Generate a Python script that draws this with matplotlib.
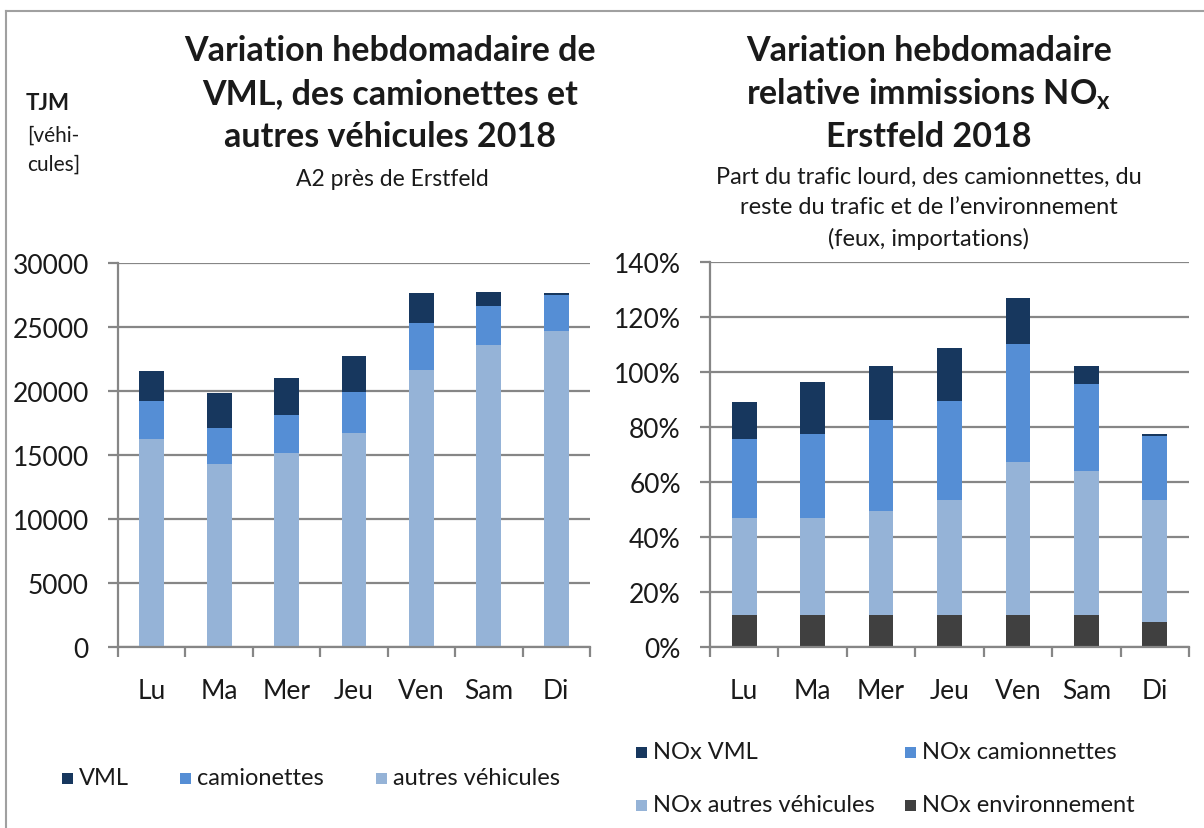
import matplotlib.pyplot as plt
import matplotlib.patches as patches
import numpy as np

plt.rcParams['font.family'] = ['Lato', 'DejaVu Sans']

# Data
days = ["Lu", "Ma", "Mer", "Jeu", "Ven", "Sam", "Di"]

# left chart: daily traffic (TJM, vehicles)
autres = [16250, 14290, 15180, 16740, 21660, 23590, 24650]
camionettes = [2990, 2810, 2920, 3180, 3670, 3070, 2870]
vml = [2290, 2740, 2890, 2780, 2320, 1090, 130]

# right chart: relative NOx immissions (%)
nox_env = [11.8, 11.8, 11.8, 11.8, 11.8, 11.8, 9.0]
nox_autres = [35.0, 35.0, 37.8, 41.8, 55.4, 52.2, 44.6]
nox_cam = [28.9, 30.7, 32.8, 36.0, 43.1, 31.5, 23.3]
nox_vml = [13.3, 18.8, 19.7, 19.3, 16.6, 6.6, 0.6]

# Colors
c_vml = '#17375E'
c_cam = '#558ED5'
c_autres = '#95B3D7'
c_env = '#404040'
c_grid = '#868686'
c_text = '#1a1a1a'

W, H = 1204, 829
fig = plt.figure(figsize=(W / 100, H / 100), dpi=100)


def fx(px):
    return px / W


def fy(py):
    return 1 - py / H


# frame lines (top and left)
fig.add_artist(plt.Line2D([fx(6), 1], [fy(12), fy(12)], color='#a0a0a0', lw=1.5))
fig.add_artist(plt.Line2D([fx(6), fx(6)], [0, fy(12)], color='#a0a0a0', lw=1.5))


def style_axes(ax, ymax, step):
    ax.set_xlim(-0.5, 6.5)
    ax.set_ylim(0, ymax)
    ax.set_yticks(np.arange(0, ymax + step / 2, step))
    ax.grid(axis='y', color=c_grid, lw=1.6, zorder=0)
    ax.set_axisbelow(True)
    for s in ['top', 'right']:
        ax.spines[s].set_visible(False)
    for s in ['left', 'bottom']:
        ax.spines[s].set_color(c_grid)
        ax.spines[s].set_linewidth(1.6)
    ax.set_xticks(range(len(days)))
    ax.set_xticklabels(days)
    ax.set_xticks(np.arange(-0.5, 7, 1), minor=True)
    ax.tick_params(axis='x', which='major', length=0, pad=22, labelsize=19, colors=c_text)
    ax.tick_params(axis='x', which='minor', length=7, width=1.6, color=c_grid)
    ax.tick_params(axis='y', length=7, width=1.6, color=c_grid, pad=14, labelsize=19,
                   labelcolor=c_text)


def legend_item(px, py, color, label):
    s = 11
    fig.add_artist(patches.Rectangle((fx(px), fy(py + s / 2)), s / W, s / H,
                                     facecolor=color, edgecolor='none'))
    fig.text(fx(px + s + 6), fy(py), label, ha='left', va='center', fontsize=17,
             color=c_text)


x = np.arange(len(days))
w = 0.37

# === Left chart ===
ax1 = fig.add_axes([fx(118), fy(648), 472 / W, 384 / H])
ax1.bar(x, autres, w, color=c_autres, zorder=2)
ax1.bar(x, camionettes, w, bottom=autres, color=c_cam, zorder=2)
bot = np.array(autres) + np.array(camionettes)
ax1.bar(x, vml, w, bottom=bot, color=c_vml, zorder=2)
style_axes(ax1, 30000, 5000)

legend_item(62, 779, c_vml, 'VML')
legend_item(180, 779, c_cam, 'camionettes')
legend_item(376, 779, c_autres, 'autres véhicules')

# === Right chart ===
ax2 = fig.add_axes([fx(710), fy(648), 479 / W, 385 / H])
w2 = 0.36
ax2.bar(x, np.array(nox_env) / 100, w2, color=c_env, zorder=2)
base = np.array(nox_env)
ax2.bar(x, np.array(nox_autres) / 100, w2, bottom=base / 100, color=c_autres, zorder=2)
base = base + np.array(nox_autres)
ax2.bar(x, np.array(nox_cam) / 100, w2, bottom=base / 100, color=c_cam, zorder=2)
base = base + np.array(nox_cam)
ax2.bar(x, np.array(nox_vml) / 100, w2, bottom=base / 100, color=c_vml, zorder=2)
style_axes(ax2, 1.4, 0.2)
ax2.set_yticklabels([f"{int(round(v * 100))}%" for v in ax2.get_yticks()])

legend_item(636, 753, c_vml, 'NOx VML')
legend_item(905, 753, c_cam, 'NOx camionnettes')
legend_item(636, 806, c_autres, 'NOx autres véhicules')
legend_item(905, 806, c_env, 'NOx environnement')

# === Titles ===
title_kw = dict(ha='center', va='center', fontsize=24.5, fontweight='bold', color=c_text)
sub_kw = dict(ha='center', va='center', fontsize=16.5, color=c_text)
for i, line in enumerate(["Variation hebdomadaire de", "VML, des camionettes et",
                          "autres véhicules 2018"]):
    fig.text(fx(390), fy(51 + i * 43), line, **title_kw)
fig.text(fx(392), fy(180), "A2 près de Erstfeld", **sub_kw)

for i, line in enumerate(["Variation hebdomadaire", "relative immissions NO$_\\mathregular{x}$",
                          "Erstfeld 2018"]):
    fig.text(fx(929), fy(51 + i * 43), line, **title_kw)
for i, line in enumerate(["Part du trafic lourd, des camionnettes, du",
                          "reste du trafic et de l\u2019environnement",
                          "(feux, importations)"]):
    fig.text(fx(929), fy(177 + i * 31), line, ha='center', va='center', fontsize=17,
             color=c_text)

# y-axis unit label
fig.text(fx(48), fy(103), "TJM", ha='center', va='center', fontsize=16,
         fontweight='bold', color=c_text)
fig.text(fx(27), fy(136), "[véhi-", ha='left', va='center', fontsize=15, color=c_text)
fig.text(fx(27), fy(165), "cules]", ha='left', va='center', fontsize=15, color=c_text)

plt.savefig('out.png', dpi=100)
